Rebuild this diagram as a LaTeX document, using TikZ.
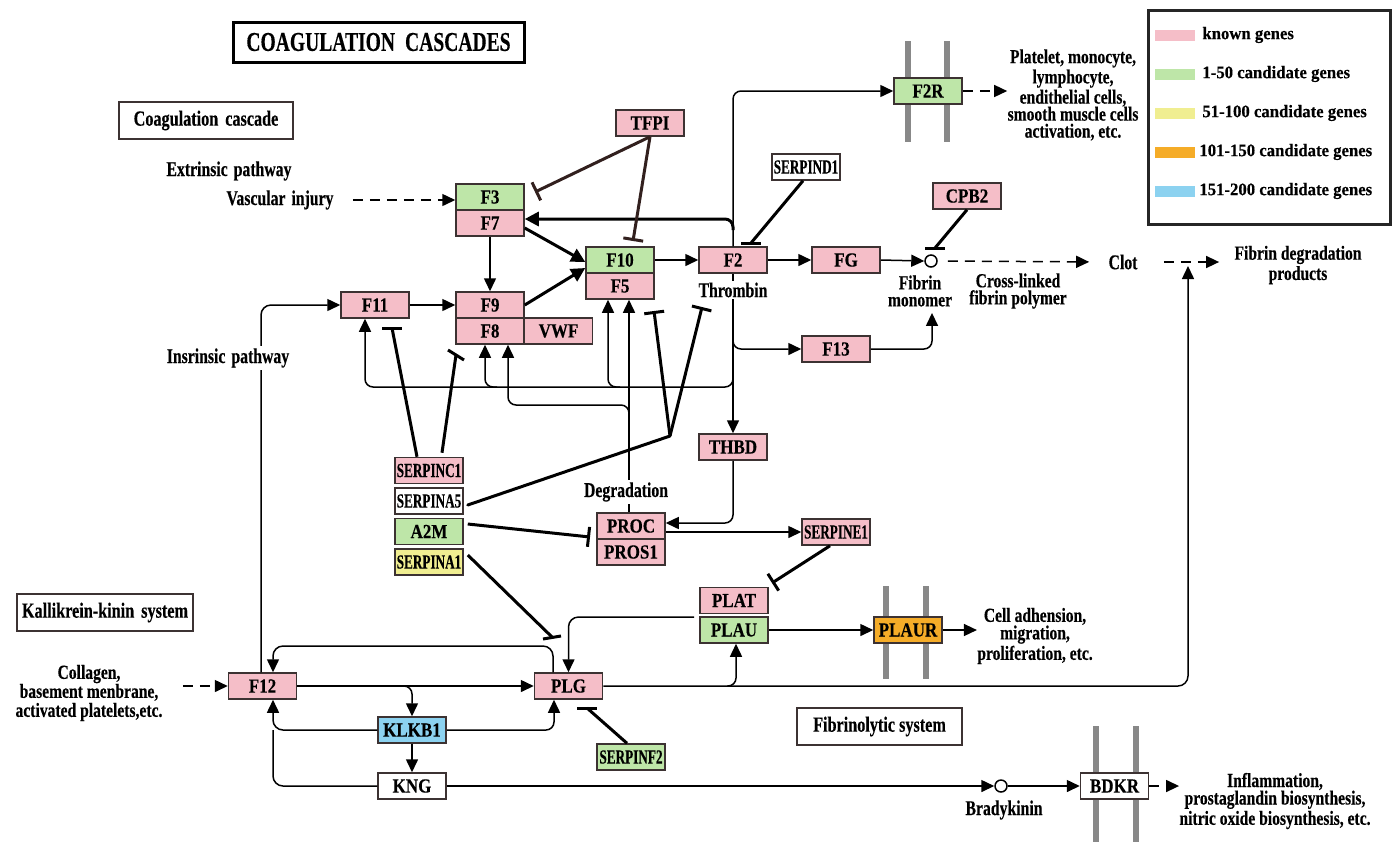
\documentclass[tikz,border=0pt]{standalone}
\usepackage{fontspec}
\setmainfont{Liberation Serif}
\newfontfamily\kgenef{Liberation Serif}[FakeStretch=0.85,FakeBold=0.3]
\newfontfamily\kserpf{Liberation Serif}[FakeStretch=0.66,FakeBold=0.3]
\newfontfamily\ktextf{Liberation Serif}[FakeStretch=0.75,FakeBold=0.3]
\newfontfamily\kmultf{Liberation Serif}[FakeStretch=0.78,FakeBold=0.3]
\newfontfamily\ktitlef{Liberation Serif}[FakeStretch=0.72,FakeBold=0.3]
\newfontfamily\klegf{Liberation Serif}[FakeStretch=0.95,FakeBold=0.3]
\usetikzlibrary{arrows.meta,calc}
\definecolor{kpink}{RGB}{245,190,200}
\definecolor{kgreen}{RGB}{190,230,168}
\definecolor{kyellow}{RGB}{240,238,145}
\definecolor{korange}{RGB}{245,172,40}
\definecolor{kblue}{RGB}{140,210,240}
\definecolor{kborder}{RGB}{60,50,50}
\definecolor{kmem}{RGB}{136,136,136}
\definecolor{kbrown}{RGB}{50,32,30}
\begin{document}
\begin{tikzpicture}[x=0.5pt,y=-0.5pt,
  gene/.style={draw=kborder, line width=0.75pt, minimum width=34pt, minimum height=13pt, inner sep=0pt, fill=kpink, font={\kgenef\bfseries\fontsize{10pt}{10pt}\selectfont}},
  serp/.style={gene, font={\kserpf\bfseries\fontsize{10pt}{10pt}\selectfont}},
  txt/.style={font={\ktextf\bfseries\fontsize{10.5pt}{11pt}\selectfont}, inner sep=1pt},
  mtxt/.style={font={\kmultf\bfseries\fontsize{10pt}{#1}\selectfont}, align=center, inner sep=0pt},
  mtxt/.default=8.5pt,
  lbox/.style={draw=kborder, line width=0.75pt, minimum height=18.5pt, inner sep=0pt, font={\ktextf\bfseries\fontsize{10.8pt}{11pt}\selectfont}},
  legt/.style={anchor=west, inner sep=0pt, font={\klegf\bfseries\fontsize{8.8pt}{9pt}\selectfont}},
  sw/.style={minimum width=20pt, minimum height=5.5pt, inner sep=0pt},
  arr/.style={line width=0.75pt, -{Triangle[length=6.5pt,width=6pt]}},
  tarr/.style={line width=1.5pt, -{Triangle[length=7pt,width=7pt]}},
  darr/.style={arr, dash pattern=on 5pt off 3.5pt},
  inh/.style={line width=1.5pt},
  inhb/.style={line width=1.5pt, -{Bar[width=10pt]}},
  mem/.style={draw=kmem, line width=3pt},
  circ/.style={circle, draw=black, fill=white, minimum size=6pt, inner sep=0pt, line width=0.75pt},
  rc/.style={rounded corners=4pt}
]
\useasboundingbox (0,0) rectangle (1396,842);

% membranes
\draw[mem] (908,41) -- (908,142);
\draw[mem] (947,41) -- (947,142);
\draw[mem] (886,586) -- (886,679);
\draw[mem] (926,586) -- (926,679);
\draw[mem] (1096,726) -- (1096,842);
\draw[mem] (1136,726) -- (1136,842);

% title and section boxes
\node[draw=black, line width=1.5pt, minimum width=145.5pt, minimum height=20pt, inner sep=0pt,
      font={\ktitlef\bfseries\fontsize{13.6pt}{14pt}\selectfont}] (title) at (378.5,42) {COAGULATION\hspace{5pt}CASCADES};
\node[lbox, minimum width=87pt] (cc) at (206,120.5) {Coagulation\hspace{3.5pt}cascade};
\node[lbox, minimum width=88pt] (kk) at (105,612.5) {Kallikrein-kinin\hspace{3.5pt}system};
\node[lbox, minimum width=82.5pt] (fs) at (879.5,726.5) {Fibrinolytic system};

% legend
\node[draw=black!85, line width=1.5pt, minimum width=121pt, minimum height=107pt, inner sep=0pt] (leg) at (1269,117) {};
\node[sw, fill=kpink] (s1) at (1175,35) {};
\node[sw, fill=kgreen] (s2) at (1175,74) {};
\node[sw, fill=kyellow] (s3) at (1175,113) {};
\node[sw, fill=korange] (s4) at (1175,152) {};
\node[sw, fill=kblue] (s5) at (1175,191) {};
\node[legt] (l1) at (1202,35) {known genes};
\node[legt] (l2) at (1202,74) {1-50 candidate genes};
\node[legt] (l3) at (1202,113) {51-100 candidate genes};
\node[legt] (l4) at (1199,152) {101-150 candidate genes};
\node[legt] (l5) at (1199,191) {151-200 candidate genes};

% plain texts
\node[txt] (ext) at (229,171) {Extrinsic\hspace{3pt}pathway};
\node[txt] (vi) at (280,200) {Vascular\hspace{3pt}injury};
\node[mtxt] (pl) at (1073,95) {Platelet, monocyte,\\lymphocyte,\\endithelial cells,\\smooth muscle cells\\activation, etc.};
\node[mtxt] (fml) at (920,291) {Fibrin\\monomer};
\node[mtxt] (cl) at (1018,291) {Cross-linked\\fibrin polymer};
\node[txt] (clot) at (1123,262) {Clot};
\node[mtxt=8pt] (fdp) at (1298,265) {Fibrin degradation\\products};
\node[mtxt=8.75pt] (ca) at (1035,636) {Cell adhension,\\migration,\\proliferation, etc.};
\node[mtxt=9.5pt] (col) at (89,693) {Collagen,\\basement menbrane,\\activated platelets,etc.};
\node[mtxt=8.75pt] (infl) at (1275,801) {Inflammation,\\prostaglandin biosynthesis,\\nitric oxide biosynthesis, etc.};
\node[txt] (bkl) at (1004,810) {Bradykinin};

% genes
\node[gene, fill=kgreen] (F3) at (490,197) {F3};
\node[gene] (F7) at (490,223) {F7};
\node[gene] (TFPI) at (650,123) {TFPI};
\node[gene, fill=kgreen] (F10) at (620,260) {F10};
\node[gene] (F5) at (620,286) {F5};
\node[gene] (F2) at (733,260) {F2};
\node[serp, fill=white] (SERPIND1) at (806,167) {SERPIND1};
\node[gene] (FG) at (846,260) {FG};
\node[gene] (CPB2) at (967,196) {CPB2};
\node[gene, fill=kgreen] (F2R) at (928,91) {F2R};
\node[gene] (F11) at (375,305) {F11};
\node[gene] (F9) at (490,305) {F9};
\node[gene] (F8) at (490,331) {F8};
\node[gene] (VWF) at (558.5,331) {VWF};
\node[gene] (F13) at (836,349) {F13};
\node[gene] (THBD) at (733,447) {THBD};
\node[serp] (SERPINC1) at (429,470.5) {SERPINC1};
\node[serp, fill=white] (SERPINA5) at (429,501) {SERPINA5};
\node[gene, fill=kgreen] (A2M) at (429,531.5) {A2M};
\node[serp, fill=kyellow] (SERPINA1) at (429,562) {SERPINA1};
\node[gene] (PROC) at (631,526) {PROC};
\node[gene] (PROS1) at (631,552) {PROS1};
\node[serp] (SERPINE1) at (836,532) {SERPINE1};
\node[gene] (PLAT) at (734,600.5) {PLAT};
\node[gene, fill=kgreen] (PLAU) at (734,630) {PLAU};
\node[gene, fill=korange] (PLAUR) at (908,630) {PLAUR};
\node[gene] (PLG) at (568.5,686) {PLG};
\node[gene] (F12) at (262.5,686) {F12};
\node[gene, fill=kblue] (KLKB1) at (412,730) {KLKB1};
\node[gene, fill=white] (KNG) at (412,786) {KNG};
\node[serp, fill=kgreen] (SERPINF2) at (631,757) {SERPINF2};
\node[gene, fill=white] (BDKR) at (1114.5,786) {BDKR};
\node[circ] (fm) at (931,261) {};
\node[circ] (bk) at (1001,786) {};

% coordinates
\coordinate (j1) at (733,230);
\coordinate (t3) at (535,192);
\coordinate (t10) at (633,241);
\coordinate (d2) at (751,243);
\coordinate (cp) at (935,248);
\coordinate (j2) at (733,334);
\coordinate (j3) at (733,377);
\coordinate (yA) at (0,387);
\coordinate (yB) at (0,405);
\coordinate (yC) at (0,646);
\coordinate (a8) at (497,387);
\coordinate (a5) at (620,387);
\coordinate (j4) at (629,414);
\coordinate (fork) at (670,436);
\coordinate (i5a) at (654,311);
\coordinate (i5b) at (702,307);
\coordinate (c11) at (392,328);
\coordinate (c9) at (456,355);
\coordinate (a2) at (590,537);
\coordinate (a1) at (552,637);
\coordinate (e1) at (772,583);
\coordinate (j5) at (694,617);
\coordinate (j6) at (402,686);
\coordinate (j7) at (727,686);
\coordinate (fdin) at (1188,266);
\coordinate (f2b) at (587,708);
\coordinate (F11in) at ([xshift=-5pt]F11.south);
\coordinate (F8in) at ([xshift=-2.5pt]F8.south);
\coordinate (F8in2) at ([xshift=9pt]F8.south);
\coordinate (F5in) at ([xshift=-6pt]F5.south);
\coordinate (F5in2) at ([xshift=4.5pt]F5.south);
\coordinate (PROCin) at ([yshift=1.5pt]PROC.east);
\coordinate (PLGout) at ([xshift=-7.75pt]PLG.north);
\coordinate (PLGin) at ([xshift=-7.25pt]PLG.south);
\coordinate (F12in) at ([xshift=5.25pt]F12.north);
\coordinate (F12in2) at ([xshift=5.25pt]F12.south);
\coordinate (F12up) at ([xshift=-0.75pt]F12.north);
\coordinate (PLAUin) at ([xshift=1pt]PLAU.south);
\coordinate (m12) at (F12in2 |- KLKB1.west);

% extrinsic / common pathway
\draw[darr, shorten <=8.5pt] (vi.east) -- (vi.east -| F3.west);
\draw[arr] (F7.south) -- (F9.north);
\draw[tarr] ([yshift=-2.5pt]F7.east) -- ([yshift=-1pt]F10.west);
\draw[tarr] (F9.east) -- ([yshift=-4pt]F10.west);
\draw[arr] (F10.east) -- (F2.west);
\draw[arr] (F2.east) -- (FG.west);
\draw[arr] (FG.east) -- (fm.west);
\draw[darr, shorten <=5pt, shorten >=8.5pt] (fm.east) -- (clot.west);
\draw[darr, shorten <=12pt, shorten >=7.5pt] (clot.east) -- (clot.east -| fdp.west);
\draw[arr, rc] (F2.north) |- (F2R.west);
\draw[darr] (F2R.east) -- (F2R.east -| pl.west);
\draw[tarr, rc] (j1) |- ([yshift=2pt]F7.east);

% inhibitions (top)
\draw[inhb, draw=kbrown] (TFPI.south) -- (t3);
\draw[inhb, draw=kbrown] (TFPI.south) -- (t10);
\draw[inh] ([xshift=-1.5pt]SERPIND1.south) -- (d2);
\draw[inh] ([xshift=-5pt]d2) -- ([xshift=5pt]d2);
\draw[inh] (CPB2.south) -- (cp);
\draw[inh] ([xshift=-5pt]cp) -- ([xshift=5pt]cp);

% thrombin branches
\draw[arr] (F2.south) -- (THBD.north);
\draw[arr, rc] (j2) |- (F13.west);
\draw[arr, rc] (F13.east) -| ([xshift=6pt,yshift=-3pt]fml.south);
\draw[arr, rc] (j3) |- (F11in |- yA) -- (F11in);
\draw[arr, rc] (a8) -| (F8in);
\draw[arr, rc] (a5) -| (F5in);

% protein C degradation
\draw[arr] (PROC.north -| F5in2) -- (F5in2);
\draw[arr, rc] (j4) |- (F8in2 |- yB) -- (F8in2);

% serpin inhibitions
\draw[inh, line cap=round] ([xshift=2pt,yshift=-2pt]SERPINA5.east) -- (fork);
\draw[inhb] (fork) -- (i5a);
\draw[inhb] (fork) -- (i5b);
\draw[inh] ([xshift=-6pt]SERPINC1.north) -- (c11);
\draw[inh] ([xshift=-5pt]c11) -- ([xshift=5pt]c11);
\draw[inh] ([xshift=6.5pt,yshift=2pt]SERPINC1.north) -- (c9);
\draw[inh] ([shift={(-4pt,2.5pt)}]c9) -- ([shift={(4pt,-2.5pt)}]c9);
\draw[inhb] ([xshift=2pt,yshift=3.75pt]A2M.east) -- (a2);
\draw[inh] ([xshift=2pt,yshift=3.5pt]SERPINA1.east) -- (a1);
\draw[inh] ([shift={(-4.5pt,-1pt)}]a1) -- ([shift={(4.5pt,0.5pt)}]a1);

% protein C system
\draw[arr, rc] (THBD.south) |- (PROCin);
\draw[arr] ([yshift=-3pt]PROC.east) -- (SERPINE1.west);
\draw[inhb] ([xshift=-3pt]SERPINE1.south) -- (e1);

% fibrinolysis
\draw[arr, rounded corners=5pt] (j5) -| (PLG.north);
\draw[arr] (PLAU.east) -- (PLAUR.west);
\draw[arr] (PLAUR.east) -- (PLAUR.east -| ca.west);
\draw[arr, rounded corners=5pt] (PLG.east) -| (fdin);
\draw[arr, rc] (j7) -| (PLAUin);
\draw[inh] ([xshift=-2pt]SERPINF2.north) -- (f2b);
\draw[inh] ([xshift=-5pt]f2b) -- ([xshift=5pt]f2b);

% kallikrein-kinin
\draw[darr, shorten <=10pt] (col.east |- F12.west) -- (F12.west);
\draw[arr, rounded corners=5pt] (F12up) |- (F11.west);
\draw[arr] (F11.east) -- (F11.east -| F9.west);
\draw[arr, rounded corners=5pt] (PLGout) |- (F12in |- yC) -- (F12in);
\draw[arr] (F12.east) -- (PLG.west);
\draw[arr, rc] (j6) -| (KLKB1.north);
\draw[arr, rc] (KLKB1.east) -| (PLGin);
\draw[arr] (KLKB1.south) -- (KNG.north);
\draw[arr, rounded corners=5pt] (KLKB1.west) -| (F12in2);
\draw[line width=0.75pt, rounded corners=5pt] (KNG.west) -| (m12);
\draw[arr] (KNG.east) -- (bk.west);
\draw[arr] (bk.east) -- (BDKR.west);
\draw[darr] (BDKR.east) -- (BDKR.east -| infl.west);

% labels over lines
\node[txt, fill=white] (thr) at (733,290) {Thrombin};
\node[txt, fill=white] (deg) at (626,492) {Degradation};
\node[txt, fill=white] (ins) at (228,358) {Insrinsic\hspace{3pt}pathway};
\end{tikzpicture}
\end{document}
